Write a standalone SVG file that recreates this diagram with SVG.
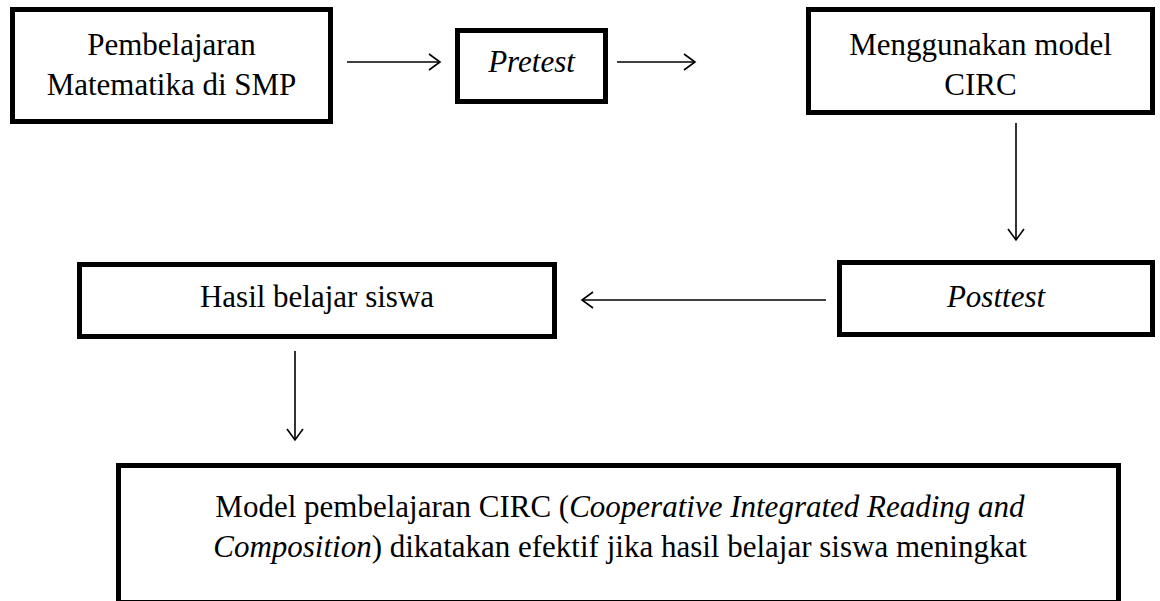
<svg xmlns="http://www.w3.org/2000/svg" width="1160" height="601" viewBox="0 0 1160 601">
<style>
.box{fill:#fff;stroke:#000;stroke-width:5}
.t{font-size:31px;fill:#000;text-anchor:middle}
.i{font-style:italic}
.c{stroke:#000;stroke-width:1.6;fill:none}
</style>
<defs>
<marker id="ah" markerUnits="userSpaceOnUse" markerWidth="24" markerHeight="24" viewBox="-12 -12 24 24" refX="0" refY="0" orient="auto">
<path d="M-11,-8 L0,0 L-11,8" fill="none" stroke="#000" stroke-width="1.6"/>
</marker>
</defs>
<rect width="1160" height="601" fill="#fff"/>
<g id="connectors">
<line class="c" x1="347" y1="62" x2="440" y2="62" marker-end="url(#ah)"/>
<line class="c" x1="617" y1="62" x2="695" y2="62" marker-end="url(#ah)"/>
<line class="c" x1="1016" y1="123" x2="1016" y2="240" marker-end="url(#ah)"/>
<line class="c" x1="826" y1="300" x2="582" y2="300" marker-end="url(#ah)"/>
<line class="c" x1="295" y1="351" x2="295" y2="440" marker-end="url(#ah)"/>
</g>
<g font-family="'Liberation Serif', 'Times New Roman', 'DejaVu Serif', serif">
<g id="node-pembelajaran">
<rect class="box" x="12.5" y="9.5" width="318" height="112"/>
<text class="t" x="171.5" y="55">Pembelajaran</text>
<text class="t" x="171.5" y="95">Matematika di SMP</text>
</g>
<g id="node-pretest">
<rect class="box" x="457.5" y="30.5" width="148" height="71"/>
<text class="t i" x="531.5" y="72">Pretest</text>
</g>
<g id="node-circ">
<rect class="box" x="808.5" y="9.5" width="344" height="103"/>
<text class="t" x="980.5" y="55">Menggunakan model</text>
<text class="t" x="980.5" y="95">CIRC</text>
</g>
<g id="node-posttest">
<rect class="box" x="839.5" y="262.5" width="313" height="72"/>
<text class="t i" x="996" y="307">Posttest</text>
</g>
<g id="node-hasil">
<rect class="box" x="79.5" y="264.5" width="475" height="72"/>
<text class="t" x="317" y="307">Hasil belajar siswa</text>
</g>
<g id="node-kesimpulan">
<rect class="box" x="118.5" y="465.5" width="1000" height="137"/>
<text class="t" x="620" y="517">Model pembelajaran CIRC (<tspan class="i">Cooperative Integrated Reading and</tspan></text>
<text class="t" x="620" y="557"><tspan class="i">Composition</tspan>) dikatakan efektif jika hasil belajar siswa meningkat</text>
</g>
</g>
</svg>
